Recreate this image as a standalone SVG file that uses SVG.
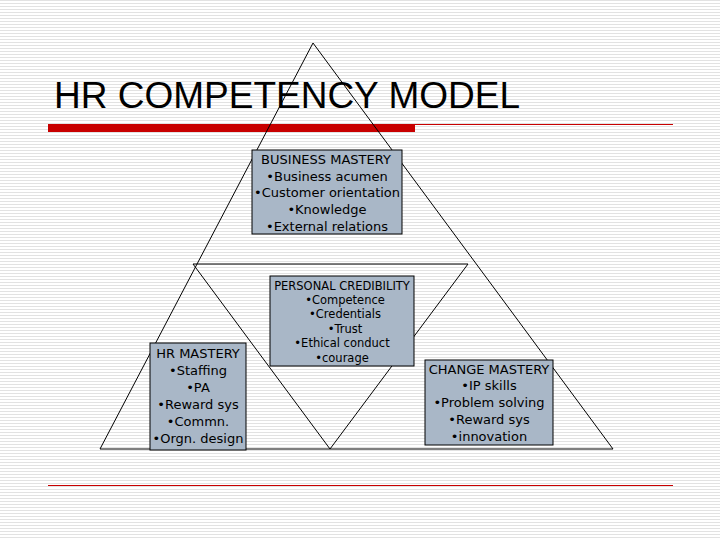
<svg xmlns="http://www.w3.org/2000/svg" width="720" height="540" viewBox="0 0 720 540">
<defs>
<pattern id="st" width="8" height="3" patternUnits="userSpaceOnUse"><rect width="8" height="3" fill="#fff"/><rect width="8" height="1" fill="#e2e2e2"/></pattern>
</defs>
<style>
.b{fill:#a9b7c7;stroke:#000;stroke-width:1}
.t{font-family:"DejaVu Sans",sans-serif;fill:#000;text-anchor:middle}
.e{fill:none;stroke:#000;stroke-width:1}
</style>
<rect width="720" height="540" fill="url(#st)"/>
<text x="54" y="108" font-family="Liberation Sans,sans-serif" font-size="37" fill="#000">HR COMPETENCY MODEL</text>
<rect x="48" y="124" width="367" height="8" fill="#c80000"/>
<line x1="415" y1="124.5" x2="673" y2="124.5" stroke="#c80000"/>
<line x1="48" y1="485.5" x2="673" y2="485.5" stroke="#c80000"/>
<g id="connectors">
<polygon class="e" points="313,43 100,449 613,449"/>
<polygon class="e" points="193,264 468,264 330,449"/>
</g>
<g id="business"><rect class="b" x="252" y="150" width="150" height="84"/>
<text class="t" font-size="13"><tspan x="326" y="164">BUSINESS MASTERY</tspan><tspan x="327" y="181">•Business acumen</tspan><tspan x="327" y="197">•Customer orientation</tspan><tspan x="327" y="214">•Knowledge</tspan><tspan x="327" y="231">•External relations</tspan></text></g>
<g id="personal"><rect class="b" x="270" y="276" width="144" height="90"/>
<text class="t" font-size="11.5"><tspan x="342" y="290">PERSONAL CREDIBILITY</tspan><tspan x="345" y="304">•Competence</tspan><tspan x="345" y="318">•Credentials</tspan><tspan x="345" y="333">•Trust</tspan><tspan x="342" y="347">•Ethical conduct</tspan><tspan x="342" y="362">•courage</tspan></text></g>
<g id="hr"><rect class="b" x="150" y="343" width="96" height="107"/>
<text class="t" font-size="13"><tspan x="198" y="358">HR MASTERY</tspan><tspan x="198" y="375">•Staffing</tspan><tspan x="198" y="392">•PA</tspan><tspan x="198" y="409">•Reward sys</tspan><tspan x="198" y="426">•Commn.</tspan><tspan x="198" y="443">•Orgn. design</tspan></text></g>
<g id="change"><rect class="b" x="425" y="360" width="128" height="85"/>
<text class="t" font-size="13"><tspan x="489" y="374">CHANGE MASTERY</tspan><tspan x="489" y="390">•IP skills</tspan><tspan x="489" y="407">•Problem solving</tspan><tspan x="489" y="424">•Reward sys</tspan><tspan x="489" y="441">•innovation</tspan></text></g>
</svg>
